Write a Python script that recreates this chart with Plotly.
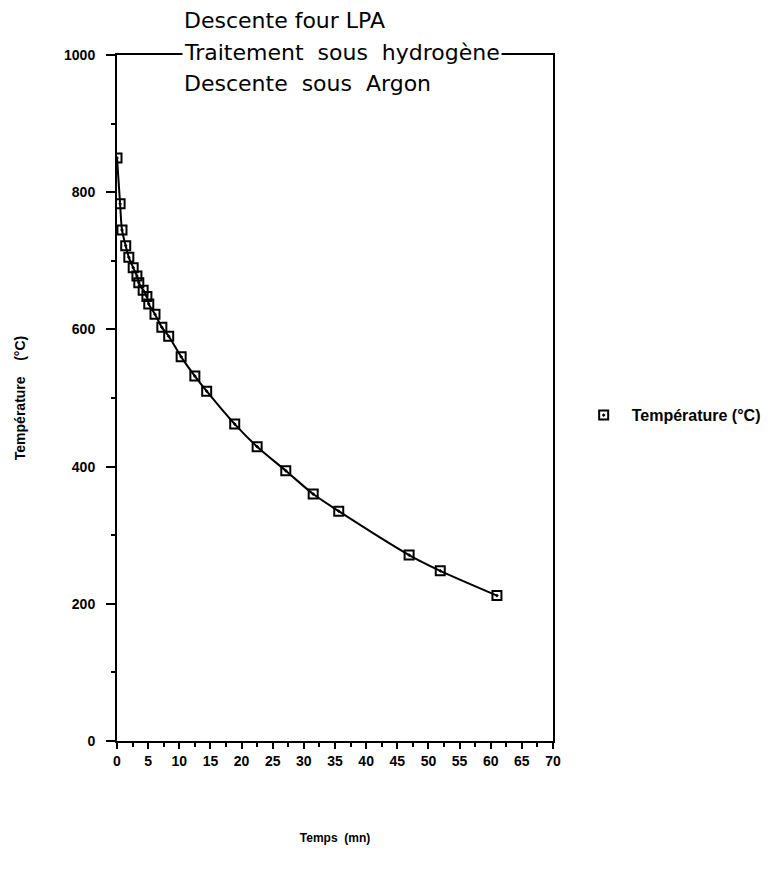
import plotly.graph_objects as go

# Data
temps_mn = [0, 0.5, 0.8, 1.4, 1.9, 2.6, 3.2, 3.5, 4.2, 4.8, 5.1, 6.1, 7.2, 8.3,
            10.3, 12.5, 14.4, 18.9, 22.5, 27.1, 31.5, 35.6, 46.9, 51.9, 61.0]
temperature_c = [850, 783, 745, 722, 705, 690, 678, 668, 657, 648, 637, 622, 603, 590,
                 560, 532, 510, 462, 429, 394, 360, 335, 271, 248, 212]
x_ticks = list(range(0, 71, 5))
y_ticks = [0, 200, 400, 600, 800, 1000]
title_lines = ["Descente four LPA", "Traitement  sous  hydrogène", "Descente  sous  Argon"]
series_name = "Température (°C)"

# page offset (browser body margin)
OFF = 8
L, T, W, H = 117 - OFF, 55 - OFF, 436, 686

fig = go.Figure()
fig.add_trace(go.Scatter(
    x=temps_mn, y=temperature_c, mode="lines",
    line=dict(color="black", width=2, shape="spline", smoothing=0.8),
    showlegend=False, hoverinfo="skip"))
fig.add_trace(go.Scatter(
    x=temps_mn, y=temperature_c, mode="markers", name="<b>" + series_name + "</b>",
    marker=dict(symbol="square-open-dot", size=9, color="black",
                line=dict(color="black", width=2))))

fig.update_xaxes(
    range=[0, 70], tickvals=x_ticks, ticktext=["<b>%d</b>" % v for v in x_ticks],
    ticks="outside", ticklen=6, tickwidth=2, tickcolor="black",
    minor=dict(dtick=2.5, ticks="outside", ticklen=4, tickwidth=1.5, tickcolor="black"),
    showline=True, linecolor="black", linewidth=2, mirror=True,
    showgrid=False, zeroline=False, automargin=False,
    tickfont=dict(family="Arial", size=14, color="black"),
    title=dict(text="<b>Temps  (mn)</b>", font=dict(family="Arial", size=12, color="black"),
               standoff=66))
fig.update_yaxes(
    range=[0, 1000], tickvals=y_ticks, ticktext=["<b>%d</b>" % v for v in y_ticks],
    ticks="outside", ticklen=9, tickwidth=2, tickcolor="black",
    minor=dict(dtick=100, ticks="outside", ticklen=4, tickwidth=1.5, tickcolor="black"),
    showline=True, linecolor="black", linewidth=2, mirror=True,
    showgrid=False, zeroline=False, automargin=False,
    tickfont=dict(family="Arial", size=14, color="black"), ticklabelstandoff=8,
    title=dict(text="<b>Température    (°C)</b>", font=dict(family="Arial", size=14, color="black"),
               standoff=35))

# Title lines (middle line sits over the top border)
for i, (txt, ypx) in enumerate(zip(title_lines, [20, 52, 84])):
    fig.add_annotation(
        text=txt, xref="paper", yref="paper",
        x=(182 - 117) / W, xanchor="left",
        y=(741 - ypx) / H, yanchor="middle",
        showarrow=False, bgcolor="white" if i == 1 else None, borderpad=1,
        font=dict(family="DejaVu Sans", size=22, color="black"))

fig.update_layout(
    width=774, height=875,
    margin=dict(l=L, r=774 - L - W, t=T, b=875 - T - H),
    paper_bgcolor="white", plot_bgcolor="white",
    legend=dict(x=1.052, y=0.475, xanchor="left", yanchor="middle",
                itemwidth=46,
                font=dict(family="Arial", size=16, color="black"),
                bgcolor="rgba(0,0,0,0)"),
)

fig.write_html("out.html")
